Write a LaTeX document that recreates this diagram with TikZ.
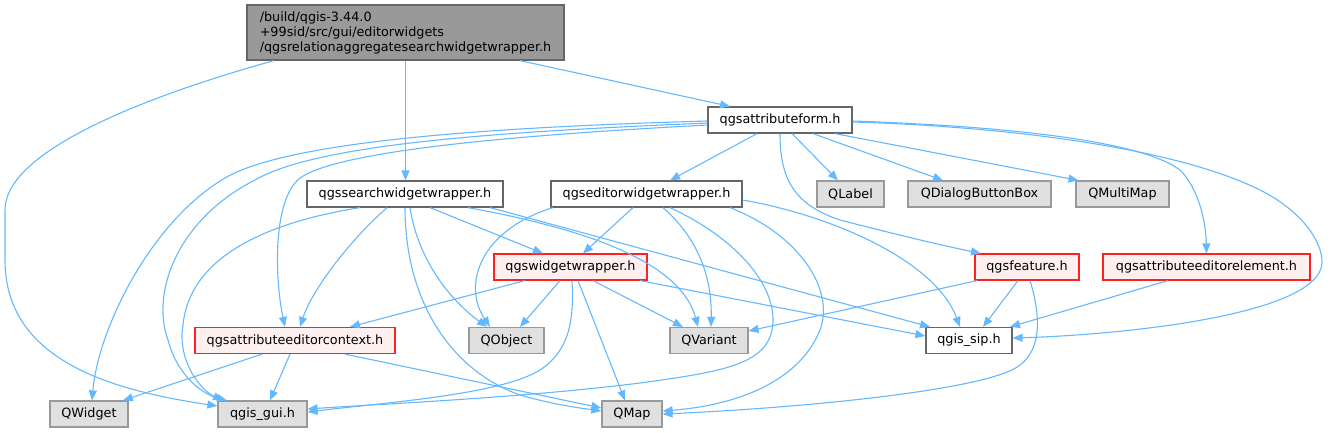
\documentclass[tikz,border=0pt]{standalone}
\usepackage{fontspec}
\setmainfont{DejaVu Sans}
\usetikzlibrary{arrows.meta}
\definecolor{edgecol}{HTML}{63B8FF}
\definecolor{boxborder}{HTML}{666666}
\definecolor{sysborder}{HTML}{999999}
\definecolor{sysfill}{HTML}{E0E0E0}
\definecolor{redfill}{HTML}{FFF0F0}
\definecolor{redborder}{HTML}{FF2020}
\definecolor{mainfill}{HTML}{999999}
\begin{document}
\begin{tikzpicture}[x=1pt,y=-1pt,
  box/.style={draw=boxborder, line width=1.2pt, fill=white, minimum height=26pt, inner sep=0pt, font=\fontsize{12.8pt}{15pt}\selectfont},
  sysbox/.style={box, draw=sysborder, fill=sysfill},
  redbox/.style={box, draw=redborder, fill=redfill},
  mainbox/.style={box, fill=mainfill, align=left},
  edge/.style={draw=edgecol, line width=1.1pt, -{Triangle[length=10pt,width=8pt]}}]
\useasboundingbox (0,0) rectangle (1332,432);
% nodes
\node[mainbox, minimum width=317pt, minimum height=55pt] (main) at (405.5,32.5) {/build/qgis-3.44.0\\+99sid/src/gui/editorwidgets\\/qgsrelationaggregatesearchwidgetwrapper.h};
\node[box, minimum width=144pt] (attrform) at (780,120) {qgsattributeform.h};
\node[box, minimum width=196pt] (searchww) at (405,194) {qgssearchwidgetwrapper.h};
\node[box, minimum width=191pt] (editorww) at (646.5,194) {qgseditorwidgetwrapper.h};
\node[sysbox, minimum width=67pt] (qlabel) at (850.5,194) {QLabel};
\node[sysbox, minimum width=143pt] (qdbb) at (979.5,194) {QDialogButtonBox};
\node[sysbox, minimum width=93pt] (qmultimap) at (1122.5,194) {QMultiMap};
\node[redbox, minimum width=153pt] (widgetww) at (570.5,267) {qgswidgetwrapper.h};
\node[redbox, minimum width=104pt] (qgsfeature) at (1027,267) {qgsfeature.h};
\node[redbox, minimum width=207pt] (attreditorelement) at (1206.5,267) {qgsattributeeditorelement.h};
\node[redbox, minimum width=200pt] (attreditorcontext) at (295,340.5) {qgsattributeeditorcontext.h};
\node[sysbox, minimum width=75pt] (qobject) at (506.5,340.5) {QObject};
\node[sysbox, minimum width=78pt] (qvariant) at (709,340.5) {QVariant};
\node[box, minimum width=86pt] (qgissip) at (969,340.5) {qgis\_sip.h};
\node[sysbox, minimum width=78pt] (qwidget) at (89,414) {QWidget};
\node[sysbox, minimum width=89pt] (qgisgui) at (262.5,414) {qgis\_gui.h};
\node[sysbox, minimum width=60pt] (qmap) at (632,414) {QMap};
% main
\draw[edge] ([xshift=-131.5pt]main.south) .. controls (150,95) and (5,150) .. (5,210) -- (5,260) .. controls (5,360) and (110,390) .. ([yshift=8pt]qgisgui.west);
\draw[edge] (main.south) -- ([xshift=0.5pt]searchww.north);
\draw[edge] ([xshift=114.5pt]main.south) -- ([xshift=-50pt]attrform.north);
% attrform
\draw[edge] ([yshift=-1pt]attrform.west) .. controls (500,127) and (290,140) .. (225,178) .. controls (150,222) and (98,330) .. ([xshift=3pt]qwidget.north);
\draw[edge] ([yshift=-3pt]attrform.west) .. controls (520,131) and (320,142) .. (255,180) .. controls (180,218) and (150,290) .. (168,340) .. controls (178,378) and (205,395) .. ([xshift=-35.5pt]qgisgui.north);
\draw[edge] ([yshift=-5pt]attrform.west) .. controls (520,135) and (340,150) .. (300,178) .. controls (272,200) and (275,280) .. ([xshift=-10pt]attreditorcontext.north);
\draw[edge] ([xshift=-23pt]attrform.south) -- ([xshift=23.5pt]editorww.north);
\draw[edge] ([xshift=12pt]attrform.south) -- ([xshift=-12.5pt]qlabel.north);
\draw[edge] ([xshift=33pt]attrform.south) -- ([xshift=-36.5pt]qdbb.north);
\draw[edge] ([xshift=55pt]attrform.south) -- ([xshift=-44pt]qmultimap.north);
\draw[edge] (attrform.south) .. controls (780,180) and (795,205) .. (840,220) .. controls (890,233) and (940,245) .. ([xshift=-46pt]qgsfeature.north);
\draw[edge] ([yshift=-1pt]attrform.east) .. controls (1000,126) and (1140,140) .. (1180,170) .. controls (1200,190) and (1206,225) .. (attreditorelement.north);
\draw[edge] ([yshift=-2pt]attrform.east) .. controls (1020,127) and (1180,150) .. (1260,190) .. controls (1300,210) and (1322,240) .. (1322,262) .. controls (1322,315) and (1120,335) .. ([yshift=2.5pt]qgissip.east);
% searchww
\draw[edge] ([xshift=-45pt]searchww.south) .. controls (270,222) and (190,255) .. (183,325) .. controls (177,360) and (200,390) .. ([xshift=-39.5pt]qgisgui.north);
\draw[edge] ([xshift=-18pt]searchww.south) .. controls (350,240) and (312,290) .. ([xshift=5pt]attreditorcontext.north);
\draw[edge] (searchww.south) .. controls (405,300) and (450,370) .. (520,395) .. controls (555,405) and (580,408) .. ([yshift=3pt]qmap.west);
\draw[edge] ([xshift=5pt]searchww.south) .. controls (418,260) and (450,300) .. ([xshift=-19.5pt]qobject.north);
\draw[edge] ([xshift=25pt]searchww.south) -- ([xshift=-27.5pt]widgetww.north);
\draw[edge] ([xshift=63pt]searchww.south) .. controls (580,228) and (680,260) .. ([xshift=-11pt]qvariant.north);
\draw[edge] ([xshift=85pt]searchww.south) -- ([xshift=-39pt]qgissip.north);
% editorww
\draw[edge] ([xshift=-93.5pt]editorww.south) .. controls (480,230) and (462,285) .. ([xshift=-16.5pt]qobject.north);
\draw[edge] ([xshift=-13.5pt]editorww.south) -- ([xshift=12.5pt]widgetww.north);
\draw[edge] ([xshift=16.5pt]editorww.south) .. controls (700,240) and (712,280) .. ([xshift=2pt]qvariant.north);
\draw[edge] ([xshift=23.5pt]editorww.south) .. controls (740,240) and (780,290) .. (772,330) .. controls (765,365) and (720,372) .. (640,383) .. controls (520,398) and (380,404) .. ([yshift=5pt]qgisgui.east);
\draw[edge] ([xshift=83.5pt]editorww.south) .. controls (800,235) and (835,290) .. (820,330) .. controls (800,380) and (740,405) .. ([yshift=3pt]qmap.east);
\draw[edge] ([yshift=-6pt]editorww.east) .. controls (830,215) and (935,260) .. ([xshift=-9pt]qgissip.north);
% widgetww
\draw[edge] ([xshift=-45.5pt]widgetww.south) -- ([xshift=55pt]attreditorcontext.north);
\draw[edge] ([xshift=-10.5pt]widgetww.south) -- ([xshift=13.5pt]qobject.north);
\draw[edge] ([xshift=1.5pt]widgetww.south) .. controls (574,320) and (570,350) .. (540,370) .. controls (500,395) and (380,403) .. ([yshift=2pt]qgisgui.east);
\draw[edge] ([xshift=7.5pt]widgetww.south) -- ([xshift=-7pt]qmap.north);
\draw[edge] ([xshift=22.5pt]widgetww.south) -- ([xshift=-26pt]qvariant.north);
\draw[edge] ([xshift=69.5pt]widgetww.south) -- ([yshift=4.5pt]qgissip.west);
% qgsfeature
\draw[edge] ([xshift=-50pt]qgsfeature.south) -- ([yshift=9.5pt]qvariant.east);
\draw[edge] ([xshift=-9pt]qgsfeature.south) -- ([xshift=14pt]qgissip.north);
\draw[edge] ([xshift=3pt]qgsfeature.south) .. controls (1042,320) and (1040,350) .. (1020,365) .. controls (990,390) and (800,408) .. (qmap.east);
% attreditorelement
\draw[edge] ([xshift=-38.5pt]attreditorelement.south) -- ([xshift=41pt]qgissip.north);
% attreditorcontext
\draw[edge] ([xshift=-33pt]attreditorcontext.south) -- ([xshift=34pt]qwidget.north);
\draw[edge] ([xshift=-5pt]attreditorcontext.south) -- ([xshift=7.5pt]qgisgui.north);
\draw[edge] ([xshift=50pt]attreditorcontext.south) -- ([yshift=6pt]qmap.west);
\end{tikzpicture}
\end{document}
